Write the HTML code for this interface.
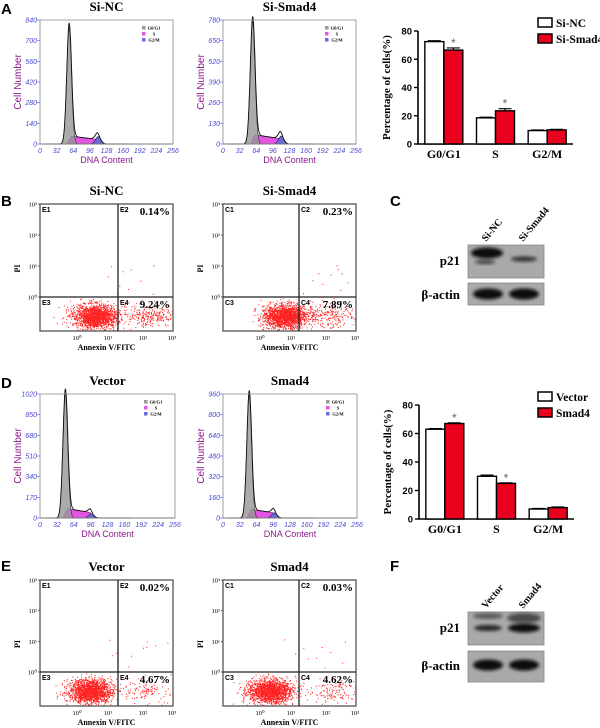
<!DOCTYPE html>
<html><head><meta charset="utf-8"><style>
html,body{margin:0;padding:0;background:#fff;}
svg{display:block;}
.pl{font-family:"Liberation Sans",sans-serif;font-weight:bold;font-size:15px;}
.tt{font-family:"Liberation Serif",serif;font-weight:bold;font-size:13px;}
.bt{font-family:"Liberation Serif",serif;font-weight:bold;}
</style></head><body>
<svg id="fig" width="600" height="728" viewBox="0 0 600 728" xmlns="http://www.w3.org/2000/svg">
<text class="pl" x="1" y="14">A</text>
<text class="pl" x="1" y="206">B</text>
<text class="pl" x="390" y="206">C</text>
<text class="pl" x="1" y="388">D</text>
<text class="pl" x="1" y="571">E</text>
<text class="pl" x="390" y="571">F</text>
</svg>
<script>
// ---- bar chart data ----
const barCats = ["G0/G1","S","G2/M"];
const barTicks = [0,20,40,60,80];
const aCtrl = [72.5,18.5,9.5];
const aTreat = [66.5,23.5,10];
const aCtrlErr = [0.6,0.5,0.4];
const aTreatErr = [1.5,1.5,0.4];
const aStars = [true,true,false];
const aNames = ["Si-NC","Si-Smad4"];
const dCtrl = [63,30,7];
const dTreat = [67,25,8];
const dCtrlErr = [0.4,0.8,0.4];
const dTreatErr = [0.5,0.4,0.4];
const dStars = [true,true,false];
const dNames = ["Vector","Smad4"];
// ---- histogram data ----
const histMax = [840,780,1020,960];
const histTitles = ["Si-NC","Si-Smad4","Vector","Smad4"];
const histG1Pos = [56,57,48,50];
const histG1H = [790,770,1020,950];
const histSH = [55,60,80,70];
const histG2Pos = [112,112,97,98];
const histG2H = [50,50,35,40];
const histXTicks = [0,32,64,96,128,160,192,224,256];
// ---- scatter quadrant percentages ----
const scTitles = ["Si-NC","Si-Smad4","Vector","Smad4"];
const scQ2 = ["0.14%","0.23%","0.02%","0.03%"];
const scQ4 = ["9.24%","7.89%","4.67%","4.62%"];
const scPrefix = ["E","C","E","C"];

const NS="http://www.w3.org/2000/svg";
const svg=document.getElementById('fig');
function mk(tag,attrs,parent){const e=document.createElementNS(NS,tag);for(const k in attrs)e.setAttribute(k,attrs[k]);(parent||svg).appendChild(e);return e;}
function txt(s,attrs,parent){const e=mk('text',attrs,parent);e.textContent=s;return e;}

// ================= Bar charts =================
function barChart(x0,x1,yTop,yBot,ctrl,treat,cErr,tErr,stars,names,key){
  const g=mk('g',{});
  
  
  const y=v=>yBot-(v/80)*(yBot-yTop);
  const step=(x1-x0)/3;
  const bw=19;
  const ax=mk('path',{d:`M${x0} ${yTop} V${yBot} H${x1}`,stroke:'#000','stroke-width':1.6,fill:'none'},g);
  
  
  barTicks.forEach(t=>{
    const tk=mk('line',{x1:x0-4,x2:x0,y1:y(t),y2:y(t),stroke:'#000','stroke-width':1.4},g);
    
    
    const tl=txt(String(t),{x:x0-6,y:y(t)+3.5,'text-anchor':'end','font-family':'Liberation Sans,sans-serif','font-weight':'bold','font-size':9.5},g);
    
    
  });
  const yt=txt('Percentage of cells(%)',{x:0,y:0,'text-anchor':'middle','font-size':11,class:'bt',transform:`translate(${x0-28},${(yTop+yBot)/2}) rotate(-90)`},g);
  
  
  barCats.forEach((c,i)=>{
    const cx=x0+step*(i+0.5);
    const b1=mk('rect',{x:cx-bw,y:y(ctrl[i]),width:bw,height:yBot-y(ctrl[i]),fill:'#fff',stroke:'#000','stroke-width':1.4},g);
    
    
    const b2=mk('rect',{x:cx,y:y(treat[i]),width:bw,height:yBot-y(treat[i]),fill:'#e8001c',stroke:'#000','stroke-width':1.4},g);
    
    
    const e1=mk('path',{d:`M${cx-bw/2} ${y(ctrl[i])} V${y(ctrl[i]+cErr[i])} M${cx-bw+3} ${y(ctrl[i]+cErr[i])} H${cx-3}`,stroke:'#000','stroke-width':1.2},g);
    
    
    const e2=mk('path',{d:`M${cx+bw/2} ${y(treat[i])} V${y(treat[i]+tErr[i])} M${cx+3} ${y(treat[i]+tErr[i])} H${cx+bw-3}`,stroke:'#000','stroke-width':1.2},g);
    
    
    if(stars[i]){
      const st=txt('*',{x:cx+bw/2,y:y(treat[i]+tErr[i])-1,'text-anchor':'middle','font-size':12,fill:'#666','font-family':'Liberation Sans,sans-serif'},g);
      
      
    }
    const cl=txt(c,{x:cx,y:yBot+14,'text-anchor':'middle','font-size':12,class:'bt'},g);
    
    
  });
  const lx=538, ly=yTop-13;
  const l1=mk('rect',{x:lx,y:ly,width:14,height:9,fill:'#fff',stroke:'#000','stroke-width':1.5},g);
  
  
  const l2=mk('rect',{x:lx,y:ly+16,width:14,height:9,fill:'#e8001c',stroke:'#000','stroke-width':1.5},g);
  
  
  const t1=txt(names[0],{x:lx+18,y:ly+9,'font-size':11.5,class:'bt'},g);
  
  
  const t2=txt(names[1],{x:lx+18,y:ly+25,'font-size':11.5,class:'bt'},g);
  
  
}
barChart(418,573,31,144,aCtrl,aTreat,aCtrlErr,aTreatErr,aStars,aNames,'a');
barChart(419,574,405,519,dCtrl,dTreat,dCtrlErr,dTreatErr,dStars,dNames,'d');

// ================= Histograms =================
function histogram(i,x0,x1,yt,yb){
  const g=mk('g',{});
  
  
  const max=histMax[i];
  const X=v=>x0+v/256*(x1-x0);
  const Y=v=>yb-v/max*(yb-yt);
  const tt=txt(histTitles[i],{x:(x0+x1)/2,y:yt-9,'text-anchor':'middle',class:'tt'},g);
  
  
  const p=histG1Pos[i],h=histG1H[i],sH=histSH[i],q=histG2Pos[i],h2=histG2H[i];
  const g1=v=>h*Math.exp(-((v-p)**2)/(2*4.6*4.6));
  const sf=v=>{if(v<p-4||v>q+4)return 0;let e=Math.min(1,(v-(p-4))/8,((q+4)-v)/6);return sH*(1-0.45*(v-p)/(q-p))*Math.max(0,e);};
  const g2=v=>h2*Math.exp(-((v-q)**2)/(2*5*5));
  function area(f){let d=`M${X(0)} ${yb}`;for(let v=0;v<=256;v+=0.5){d+=` L${X(v).toFixed(1)} ${Y(f(v)).toFixed(1)}`;}return d+` L${X(256)} ${yb} Z`;}
  const sA=mk('path',{d:area(sf),fill:'#e455e4',stroke:'#703070','stroke-width':0.6},g);
  
  
  const bA=mk('path',{d:area(g2),fill:'#6a6ad8',stroke:'#202060','stroke-width':0.6},g);
  
  
  const gA=mk('path',{d:area(g1),fill:'rgba(150,150,150,0.8)',stroke:'#333','stroke-width':0.6},g);
  
  
  const tot=v=>g1(v)+sf(v)+g2(v);
  let d='';for(let v=10;v<=175;v+=0.5){d+=(d?' L':'M')+X(v).toFixed(1)+' '+Y(tot(v)).toFixed(1);}
  const ol=mk('path',{d,fill:'none',stroke:'#111','stroke-width':0.9},g);
  
  
  const bx=mk('path',{d:`M${x0} ${yt} V${yb} H${x1} V${yt} Z`,fill:'none',stroke:'#888','stroke-width':0.8},g);
  
  
  for(let k=0;k<=6;k++){const v=max*k/6;
    const tk=mk('line',{x1:x0-3,x2:x0,y1:Y(v),y2:Y(v),stroke:'#66f','stroke-width':0.7},g);
    
    
    const tl=txt(String(Math.round(v)),{x:x0-3,y:Y(v)+2.5,'text-anchor':'end','font-size':7,'font-style':'italic',fill:'#4848d0','font-family':'Liberation Sans,sans-serif'},g);
    
    
  }
  histXTicks.forEach(v=>{
    const tl=txt(String(v),{x:X(v),y:yb+9,'text-anchor':'middle','font-size':7,'font-style':'italic',fill:'#4848d0','font-family':'Liberation Sans,sans-serif'},g);
    
    
  });
  const xl=txt('DNA Content',{x:(x0+x1)/2,y:yb+19,'text-anchor':'middle','font-size':9,fill:'#8a1a8a','font-family':'Liberation Sans,sans-serif'},g);
  
  
  const yl=txt('Cell Number',{x:0,y:0,'text-anchor':'middle','font-size':10,fill:'#8a1a8a','font-family':'Liberation Sans,sans-serif',transform:`translate(${x0-19},${(yt+yb)/2}) rotate(-90)`},g);
  
  
  const lg=[['#999','G0/G1'],['#e455e4','S'],['#6a6ad8','G2/M']];
  lg.forEach((L,k)=>{
    const r=mk('rect',{x:x1-31,y:yt+6+k*6,width:3.5,height:3.5,fill:L[0]},g);
    
    
    const t=txt(L[1],{x:x1-19,y:yt+9.5+k*6,'text-anchor':'middle','font-size':4.5,'font-family':'Liberation Serif,serif','font-weight':'bold'},g);
    
    
  });
}
histogram(0,40,173,20,144);
histogram(1,223,356,20,144);
histogram(2,40,175,394,518);
histogram(3,223,357,394,518);

// ================= Scatter (annexin) plots =================
let seed=12345;
function rnd(){seed=(seed*1103515245+12345)%2147483648;return seed/2147483648;}
function gauss(){let u=rnd()||1e-6,v=rnd();return Math.sqrt(-2*Math.log(u))*Math.cos(2*Math.PI*v);}
function scatter(i,x0,x1,yt,ym,yb,xv,cx,nq4){
  const g=mk('g',{});
  
  
  const tt=txt(scTitles[i],{x:(x0+x1)/2,y:yt-9,'text-anchor':'middle',class:'tt'},g);
  
  
  let d='';
  for(let k=0;k<1700;k++){
    const x=cx+gauss()*11, y=(ym+yb)/2+2+gauss()*6;
    if(x>x0+1&&x<x1-1&&y>ym+1&&y<yb-1)d+=`M${x.toFixed(1)} ${y.toFixed(1)}h1v1h-1z`;
  }
  for(let k=0;k<nq4;k++){
    const x=xv+32+gauss()*14, y=(ym+yb)/2+2+gauss()*6;
    if(x>xv+1&&x<x1-1&&y>ym+1&&y<yb-1)d+=`M${x.toFixed(1)} ${y.toFixed(1)}h1v1h-1z`;
  }
  for(let k=0;k<10;k++){
    const x=cx+10+rnd()*(x1-cx-15), y=ym-3-rnd()*30;
    d+=`M${x.toFixed(1)} ${y.toFixed(1)}h1v1h-1z`;
  }
  const pts=mk('path',{d,fill:'#f22'},g);
  
  
  const bx=mk('rect',{x:x0,y:yt,width:x1-x0,height:yb-yt,fill:'none',stroke:'#555','stroke-width':1.3},g);
  
  
  const q=mk('path',{d:`M${xv} ${yt} V${yb} M${x0} ${ym} H${x1}`,stroke:'#222','stroke-width':1.3},g);
  
  
  const qs=[[x0+2,yt+8,'1'],[xv+2,yt+8,'2'],[x0+2,ym+8,'3'],[xv+2,ym+8,'4']];
  qs.forEach(Q=>{const t=txt(scPrefix[i]+Q[2],{x:Q[0],y:Q[1],'font-size':7,'font-family':'Liberation Sans,sans-serif','font-weight':'bold'},g);
    
    });
  const p2=txt(scQ2[i],{x:x1-3,y:yt+11,'text-anchor':'end','font-size':11,class:'bt'},g);
  
  
  const p4=txt(scQ4[i],{x:x1-3,y:ym+11,'text-anchor':'end','font-size':11,class:'bt'},g);
  
  
  const yd=(ym-yt)/3;
  for(let k=0;k<4;k++){
    const yy=ym-k*yd;
    const t=txt('10'+['⁰','¹','²','³'][k],{x:x0-3,y:yy+2.5,'text-anchor':'end','font-size':6.5,'font-family':'Liberation Serif,serif'},g);
    
    
    const tk=mk('line',{x1:x0-2,x2:x0,y1:yy,y2:yy,stroke:'#333','stroke-width':0.7},g);
    
    
  }
  const xs=[x0+37,x0+68,x0+103,x0+132];
  xs.forEach((xx,k)=>{
    const t=txt('10'+['⁰','¹','²','³'][k],{x:xx,y:yb+9,'text-anchor':'middle','font-size':6.5,'font-family':'Liberation Serif,serif'},g);
    
    
  });
  const xl=txt('Annexin V/FITC',{x:(x0+x1)/2,y:yb+19,'text-anchor':'middle','font-size':8,class:'bt'},g);
  
  
  const yl=txt('PI',{x:0,y:0,'text-anchor':'middle','font-size':8,class:'bt',transform:`translate(${x0-20},${(yt+ym)/2+18}) rotate(-90)`},g);
  
  
}
scatter(0,40,173,204,297,331,118,95,260);
scatter(1,223,356,204,297,331,299,285,220);
scatter(2,40,173,580,672,706,118,90,130);
scatter(3,223,356,580,672,706,299,270,130);

// ================= Western blots =================
function blot(key,top,lanes,p21a,lab){
  const g=mk('g',{});
  
  
  const defs=mk('defs',{},g);
  const f=mk('filter',{id:'bl'+key,x:'-20%',y:'-50%',width:'140%',height:'200%'},defs);
  mk('feGaussianBlur',{stdDeviation:1.6},f);
  const r1=mk('rect',{x:468,y:top,width:76,height:33,fill:'#a9a9a9',stroke:'#888','stroke-width':0.8},g);
  
  
  const r2=mk('rect',{x:468,y:top+(lab?38:39),width:76,height:lab?22:31,fill:'#a9a9a9',stroke:'#888','stroke-width':0.8},g);
  
  
  p21a.forEach(b=>{const e=mk('ellipse',{cx:b[0],cy:top+b[1],rx:b[2],ry:b[3],fill:'#111',opacity:b[4],filter:`url(#bl${key})`},g);
    
    });
  const ay=top+(lab?49:53);
  [[488,15,5.5],[524,15,5.5]].forEach(b=>{const e=mk('ellipse',{cx:b[0],cy:ay,rx:b[1],ry:b[2],fill:'#0a0a0a',filter:`url(#bl${key})`},g);
    
    });
  const t1=txt('p21',{x:460,y:top+20,'text-anchor':'end','font-size':13,class:'bt'},g);
  
  
  const t2=txt('β-actin',{x:460,y:ay+5,'text-anchor':'end','font-size':13,class:'bt'},g);
  
  
  lanes.forEach((L,k)=>{const t=txt(L,{x:0,y:0,'font-size':10,class:'bt',transform:`translate(${486+k*37},${top-3}) rotate(-50)`},g);
    
    });
}
blot('c',245,['Si-NC','Si-Smad4'],[[487,8,16,5.5,1],[485,17,10,2,0.7],[524,14,13,2.6,0.75]],true);
blot('f',612,['Vector','Smad4'],[[488,16,14,3,0.85],[524,16,16,4.5,1],[488,4,15,3,0.5],[524,6,17,5,0.6]],false);
</script>
</body></html>
